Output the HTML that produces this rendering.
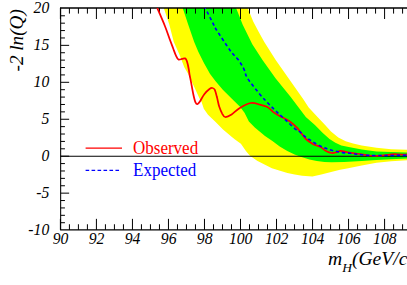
<!DOCTYPE html>
<html><head><meta charset="utf-8"><style>
html,body{margin:0;padding:0;background:#fff;}
body{width:407px;height:285px;overflow:hidden;}
svg{display:block;font-family:"Liberation Serif",serif;}
</style></head><body>
<svg width="407" height="285" viewBox="0 0 407 285">
<rect width="407" height="285" fill="#fff"/>
<polygon fill="#ffff00" points="163.8,8.0 169.3,24.6 173.8,42.0 179.2,54.0 184.3,67.3 188.8,75.0 195.5,89.7 199.3,98.0 201.6,102.0 203.8,108.8 208.0,114.7 215.6,122.1 223.0,129.5 231.9,136.9 235.0,139.4 240.9,143.8 246.1,151.2 249.7,155.6 257.1,160.8 264.5,164.5 271.9,168.2 280.0,170.8 287.4,173.0 294.7,174.5 302.1,175.7 312.4,176.4 321.3,174.5 330.1,172.3 340.0,169.8 347.0,168.6 361.7,165.4 376.5,162.7 391.2,161.3 408.0,160.2 408.0,149.9 391.2,149.2 376.5,147.7 361.7,145.5 353.1,143.5 345.7,141.2 338.3,137.5 331.0,131.6 325.1,125.0 318.0,117.5 308.7,107.5 303.3,99.3 288.7,78.4 275.7,60.0 264.3,42.0 258.2,31.0 253.2,21.5 247.7,8.0"/>
<polygon fill="#00ff00" points="182.7,8.0 188.0,24.0 194.2,42.0 198.3,51.8 204.2,63.6 210.1,73.9 215.4,80.9 222.8,89.7 231.6,98.6 240.0,106.7 244.5,112.7 248.9,121.5 254.8,127.4 265.0,135.9 272.4,141.1 279.7,146.5 287.3,151.1 294.6,154.5 301.5,157.1 309.4,159.6 316.8,161.0 324.5,161.9 331.6,162.2 344.2,162.0 361.7,161.0 376.5,159.9 391.2,159.2 408.0,158.5 408.0,152.6 391.2,152.1 376.5,151.4 361.7,149.5 348.7,147.1 341.3,145.4 335.4,142.7 329.5,139.0 322.8,133.1 314.9,125.0 305.8,117.0 290.7,96.9 275.7,78.4 262.5,60.0 252.3,44.2 242.6,24.6 236.1,8.0"/>
<path d="M60.65,156.25H408" stroke="#000" stroke-width="1.2" fill="none"/>
<path d="M60.65,229.85V8.0M60.65,229.85H408" stroke="#000" stroke-width="1.05" fill="none" stroke-linecap="square"/>
<path d="M60.15,8.0H408" stroke="#000" stroke-width="1.5" fill="none"/>
<path d="M60.40,229.85v-11M60.40,8.0v11M69.41,229.85v-5.6M69.41,8.0v5.6M78.41,229.85v-5.6M78.41,8.0v5.6M87.41,229.85v-5.6M87.41,8.0v5.6M96.42,229.85v-11M96.42,8.0v11M105.43,229.85v-5.6M105.43,8.0v5.6M114.43,229.85v-5.6M114.43,8.0v5.6M123.44,229.85v-5.6M123.44,8.0v5.6M132.44,229.85v-11M132.44,8.0v11M141.44,229.85v-5.6M141.44,8.0v5.6M150.45,229.85v-5.6M150.45,8.0v5.6M159.46,229.85v-5.6M159.46,8.0v5.6M168.46,229.85v-11M168.46,8.0v11M177.47,229.85v-5.6M177.47,8.0v5.6M186.47,229.85v-5.6M186.47,8.0v5.6M195.48,229.85v-5.6M195.48,8.0v5.6M204.48,229.85v-11M204.48,8.0v11M213.49,229.85v-5.6M213.49,8.0v5.6M222.49,229.85v-5.6M222.49,8.0v5.6M231.50,229.85v-5.6M231.50,8.0v5.6M240.50,229.85v-11M240.50,8.0v11M249.51,229.85v-5.6M249.51,8.0v5.6M258.51,229.85v-5.6M258.51,8.0v5.6M267.51,229.85v-5.6M267.51,8.0v5.6M276.52,229.85v-11M276.52,8.0v11M285.53,229.85v-5.6M285.53,8.0v5.6M294.53,229.85v-5.6M294.53,8.0v5.6M303.54,229.85v-5.6M303.54,8.0v5.6M312.54,229.85v-11M312.54,8.0v11M321.55,229.85v-5.6M321.55,8.0v5.6M330.55,229.85v-5.6M330.55,8.0v5.6M339.56,229.85v-5.6M339.56,8.0v5.6M348.56,229.85v-11M348.56,8.0v11M357.56,229.85v-5.6M357.56,8.0v5.6M366.57,229.85v-5.6M366.57,8.0v5.6M375.57,229.85v-5.6M375.57,8.0v5.6M384.58,229.85v-11M384.58,8.0v11M393.58,229.85v-5.6M393.58,8.0v5.6M402.59,229.85v-5.6M402.59,8.0v5.6M60.65,222.71h4.3M60.65,215.32h4.3M60.65,207.93h4.3M60.65,200.54h4.3M60.65,193.15h8.5M60.65,185.76h4.3M60.65,178.37h4.3M60.65,170.98h4.3M60.65,163.59h4.3M60.65,156.20h8.5M60.65,148.81h4.3M60.65,141.42h4.3M60.65,134.03h4.3M60.65,126.64h4.3M60.65,119.25h8.5M60.65,111.86h4.3M60.65,104.47h4.3M60.65,97.08h4.3M60.65,89.69h4.3M60.65,82.30h8.5M60.65,74.91h4.3M60.65,67.52h4.3M60.65,60.13h4.3M60.65,52.74h4.3M60.65,45.35h8.5M60.65,37.96h4.3M60.65,30.57h4.3M60.65,23.18h4.3M60.65,15.79h4.3" stroke="#000" stroke-width="1" fill="none"/>
<path d="M157.2,8.0C158.5,11.0 162.8,20.7 164.9,26.0C167.0,31.3 168.6,36.2 170.0,40.0C171.4,43.8 172.3,46.1 173.3,48.8C174.3,51.5 175.3,54.4 176.2,56.2C177.0,58.0 177.4,59.0 178.4,59.5C179.4,60.0 181.0,59.1 182.1,58.9C183.2,58.7 184.3,58.0 185.1,58.4C185.9,58.8 186.4,59.5 187.0,61.4C187.6,63.2 188.4,67.2 188.8,69.5C189.2,71.8 189.2,72.8 189.6,75.0C190.0,77.2 190.5,79.2 191.1,82.4C191.7,85.6 192.6,90.9 193.3,94.2C194.0,97.5 194.8,100.7 195.5,102.3C196.2,103.9 196.7,104.2 197.4,104.1C198.1,104.0 198.8,103.2 199.9,101.5C201.1,99.8 202.7,96.3 204.3,94.2C205.9,92.1 208.2,90.0 209.5,89.0C210.8,88.0 211.5,87.9 212.4,88.0C213.3,88.1 213.9,88.2 214.7,89.7C215.4,91.2 216.2,94.3 216.9,97.1C217.7,99.9 218.3,103.8 219.2,106.5C220.1,109.2 221.2,111.8 222.2,113.6C223.2,115.3 223.6,116.8 225.2,117.0C226.8,117.2 229.2,116.0 231.6,114.5C234.0,113.0 236.6,109.8 239.8,107.9C243.0,106.0 247.5,103.5 250.9,103.0C254.3,102.5 257.2,104.0 260.0,104.7C262.8,105.4 265.2,105.8 267.4,107.0C269.6,108.2 271.3,110.6 273.3,112.1C275.3,113.6 277.2,114.7 279.2,115.8C281.2,116.9 283.1,117.7 285.1,118.8C287.1,119.9 289.0,120.9 291.0,122.4C293.0,123.9 295.4,126.1 296.9,127.6C298.4,129.1 298.5,129.7 300.0,131.6C301.5,133.5 303.7,136.9 305.9,139.0C308.1,141.1 310.9,142.8 313.3,144.2C315.8,145.5 318.4,145.9 320.6,147.1C322.8,148.3 324.6,150.3 326.5,151.3C328.4,152.3 330.1,152.8 331.7,153.0C333.3,153.2 334.6,152.7 336.1,152.3C337.6,151.9 339.0,150.9 340.6,150.8C342.2,150.7 343.6,151.4 345.7,151.8C347.8,152.2 350.2,152.8 352.9,153.2C355.6,153.6 359.0,153.9 361.7,154.3C364.4,154.7 366.6,155.2 369.1,155.5C371.6,155.8 374.0,155.8 376.5,155.8C379.0,155.8 381.4,155.7 383.9,155.4C386.3,155.2 388.8,154.5 391.2,154.3C393.6,154.1 395.8,154.2 398.6,154.3C401.4,154.4 406.4,154.7 408.0,154.8" stroke="#ff0000" stroke-width="1.75" fill="none" stroke-linejoin="round"/>
<path d="M205.2,8.0C206.7,10.9 212.2,21.7 214.0,25.3C215.8,28.9 213.4,25.1 216.2,29.5C219.0,33.9 227.3,46.6 231.0,51.6C234.7,56.6 236.2,56.9 238.3,59.8C240.4,62.7 242.2,65.7 243.8,68.8C245.4,71.9 244.9,74.1 247.6,78.4C250.3,82.7 256.5,90.1 260.0,94.4C263.5,98.7 266.0,101.0 268.8,104.0C271.6,107.0 274.2,109.4 277.0,112.1C279.8,114.8 282.7,117.4 285.8,120.2C288.9,123.0 293.0,127.1 295.4,129.1C297.8,131.0 298.5,130.7 300.0,131.9C301.5,133.1 302.8,134.8 304.4,136.1C306.0,137.4 307.9,138.5 309.6,139.7C311.3,140.8 312.9,141.9 314.7,143.0C316.5,144.1 318.8,145.2 320.6,146.1C322.5,147.0 324.1,147.6 325.8,148.3C327.5,149.0 329.1,149.6 331.0,150.1C332.9,150.6 334.9,151.1 336.9,151.5C338.9,151.9 340.6,152.3 342.8,152.6C345.0,152.9 347.9,153.1 350.1,153.3C352.3,153.6 354.1,153.8 356.0,154.1C357.9,154.3 359.5,154.6 361.7,154.8C363.9,155.0 365.4,155.3 369.1,155.4C372.8,155.5 379.0,155.5 383.9,155.5C388.8,155.5 394.6,155.4 398.6,155.4C402.6,155.4 406.4,155.4 408.0,155.4" stroke="#0000ff" stroke-width="1.6" fill="none" stroke-dasharray="3.4 2.7" stroke-dashoffset="2.1"/>
<g font-size="15.7" font-style="italic" fill="#000"><text transform="translate(60.6,244) scale(1,1.1)" text-anchor="middle">90</text><text transform="translate(96.6,244) scale(1,1.1)" text-anchor="middle">92</text><text transform="translate(132.6,244) scale(1,1.1)" text-anchor="middle">94</text><text transform="translate(168.7,244) scale(1,1.1)" text-anchor="middle">96</text><text transform="translate(204.7,244) scale(1,1.1)" text-anchor="middle">98</text><text transform="translate(240.7,244) scale(1,1.1)" text-anchor="middle">100</text><text transform="translate(276.7,244) scale(1,1.1)" text-anchor="middle">102</text><text transform="translate(312.7,244) scale(1,1.1)" text-anchor="middle">104</text><text transform="translate(348.8,244) scale(1,1.1)" text-anchor="middle">106</text><text transform="translate(384.8,244) scale(1,1.1)" text-anchor="middle">108</text><text transform="translate(49.3,234.5) scale(1,1.1)" text-anchor="end">-10</text><text transform="translate(49.3,197.6) scale(1,1.1)" text-anchor="end">-5</text><text transform="translate(49.3,160.6) scale(1,1.1)" text-anchor="end">0</text><text transform="translate(49.3,123.7) scale(1,1.1)" text-anchor="end">5</text><text transform="translate(49.3,86.7) scale(1,1.1)" text-anchor="end">10</text><text transform="translate(49.3,49.7) scale(1,1.1)" text-anchor="end">15</text><text transform="translate(49.3,12.8) scale(1,1.1)" text-anchor="end">20</text></g>
<text transform="translate(22.6,71.5) rotate(-90)" font-size="19.2" font-style="italic">-2 ln(Q)</text>
<text x="328" y="265" font-size="19.6" font-style="italic">m<tspan font-size="13.5" dy="6.5">H</tspan><tspan dy="-6.5">(GeV/c</tspan></text>
<path d="M85.6,148.1H122" stroke="#ff0000" stroke-width="1.35"/>
<path d="M85.6,170.35H121" stroke="#0000ff" stroke-width="1.35" stroke-dasharray="3.6 2.37"/>
<text transform="translate(133,154) scale(1,1.08)" font-size="17" fill="#ff0000">Observed</text>
<text transform="translate(133,175.8) scale(1,1.08)" font-size="17" fill="#0000ff">Expected</text>
</svg>
</body></html>
